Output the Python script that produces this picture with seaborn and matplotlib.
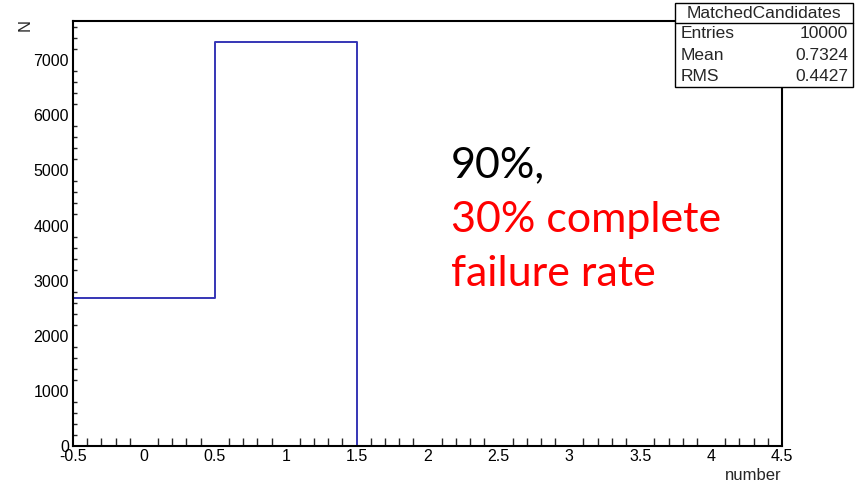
import numpy as np
import pandas as pd
import matplotlib
matplotlib.use("Agg")
import matplotlib.pyplot as plt
from matplotlib.patches import Rectangle
from matplotlib.ticker import MultipleLocator
import seaborn as sns

# histogram of the number of matched candidates
bin_centers = [0, 1, 2, 3, 4]
bin_counts = [2676, 7324, 0, 0, 0]
bin_edges = [-0.5, 0.5, 1.5, 2.5, 3.5, 4.5]

stats_title = "MatchedCandidates"
stats_names = ["Entries", "Mean", "RMS"]
stats_values = ["10000", "0.7324", "0.4427"]

note_lines = ["90%,", "30% complete", "failure rate"]
note_colors = ["black", "red", "red"]

sns.set_style("white")
plt.rcParams["font.family"] = ["Liberation Sans", "DejaVu Sans"]

df = pd.DataFrame({"number": bin_centers, "count": bin_counts})

fig = plt.figure(figsize=(8.64, 4.83), dpi=100)
ax = fig.add_axes([73/864, 1-446/483, (782-73)/864, (446-21)/483])

sns.histplot(data=df, x="number", weights="count", bins=bin_edges,
             element="step", fill=False, color="#3535b5", linewidth=1.4, ax=ax)

ax.set_xlim(-0.5, 4.5)
ax.set_ylim(0, 7710)
ax.xaxis.set_major_locator(MultipleLocator(0.5))
ax.xaxis.set_minor_locator(MultipleLocator(0.1))
ax.yaxis.set_major_locator(MultipleLocator(1000))
ax.yaxis.set_minor_locator(MultipleLocator(200))
ax.set_xticks(np.arange(-0.5, 4.51, 0.5))
ax.set_xticklabels(["-0.5", "0", "0.5", "1", "1.5", "2", "2.5", "3", "3.5", "4", "4.5"])
ax.tick_params(axis="x", which="major", direction="in", length=10, width=1,
               labelsize=11.5, pad=2, colors="black")
ax.tick_params(axis="x", which="minor", direction="in", length=5.5, width=1, bottom=True)
ax.tick_params(axis="y", which="major", direction="in", length=5.5, width=1,
               labelsize=11.5, pad=3, colors="black")
ax.tick_params(axis="y", which="minor", direction="in", length=3, width=1, left=True)
for s in ax.spines.values():
    s.set_visible(True)
    s.set_color("black")
    s.set_linewidth(1.5)
    s.set_zorder(4)

ax.set_ylabel("")
ax.set_xlabel("number", fontsize=12, ha="right", va="center")
ax.xaxis.set_label_coords(1.0, -(475-446)/425)
fig.text(25/864, 1-25/483, "N", rotation=90, ha="center", va="center", fontsize=12)

# stats box
x0, x1 = 675/864, 853/864
y_top, y_head, y_bot = 1-3/483, 1-23/483, 1-87/483
fig.patches.append(Rectangle((x0, y_bot), x1-x0, y_top-y_bot, transform=fig.transFigure,
                             facecolor="white", edgecolor="black", linewidth=1, zorder=5))
fig.lines.append(plt.Line2D([x0, x1], [y_head, y_head], transform=fig.transFigure,
                            color="black", linewidth=1, zorder=6))
fig.text((x0+x1)/2, (y_top+y_head)/2, stats_title, ha="center", va="center",
         fontsize=12.5, zorder=7)
row_h = (y_head-y_bot)/3
for i, (n, v) in enumerate(zip(stats_names, stats_values)):
    yc = y_head - row_h*(i+0.5)
    fig.text(x0+6/864, yc, n, ha="left", va="center", fontsize=12.5, zorder=7)
    fig.text(x1-5/864, yc, v, ha="right", va="center", fontsize=12.5, zorder=7)

# annotation
baselines = [177, 232, 286]
for t, c, b in zip(note_lines, note_colors, baselines):
    fig.text(451/864, 1-b/483, t, color=c, fontsize=31, ha="left", va="baseline",
             family=["Lato", "DejaVu Sans"])

fig.savefig("out.png", dpi=100)
